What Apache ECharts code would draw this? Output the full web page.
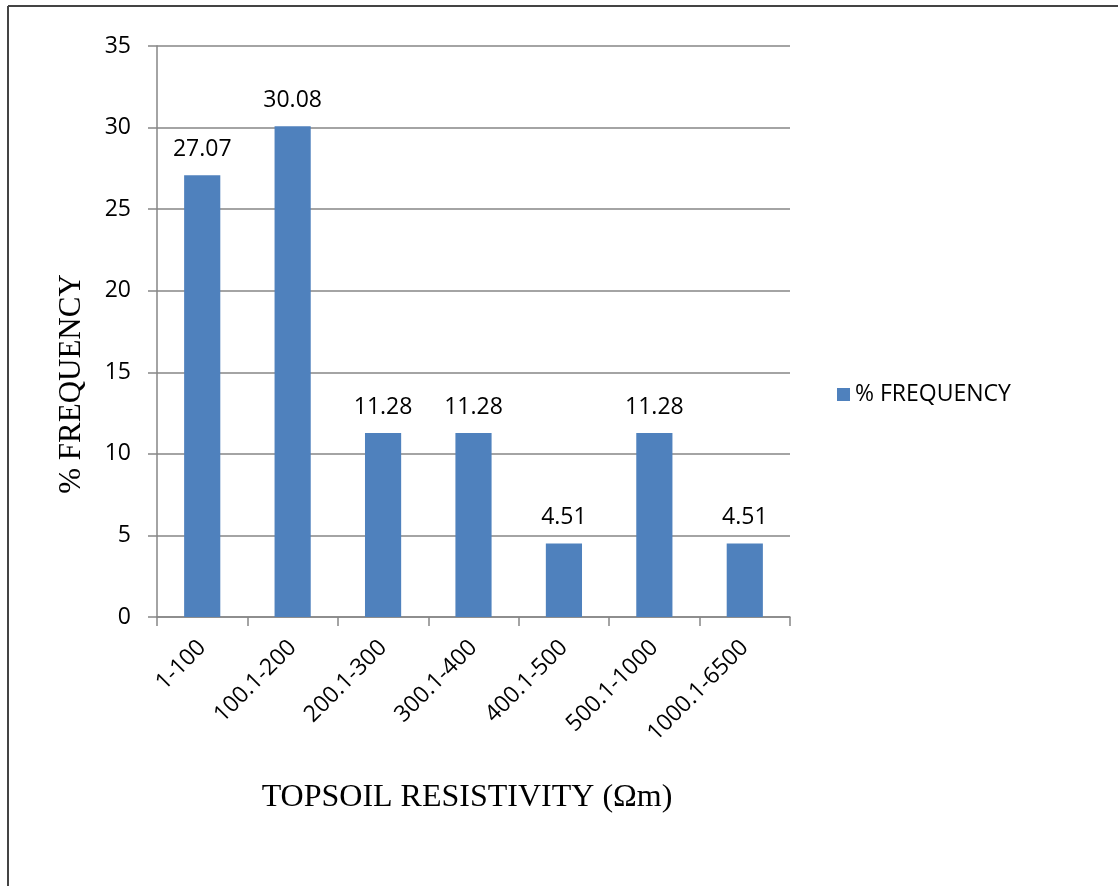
<!DOCTYPE html>
<html>
<head>
<meta charset="utf-8">
<script src="https://cdn.jsdelivr.net/npm/echarts@6/dist/echarts.min.js"></script>
<style>
html,body{margin:0;padding:0;background:#fff;}
#chart{width:1118px;height:886px;}
</style>
</head>
<body>
<div id="chart"></div>
<script>
const categories = ['1-100','100.1-200','200.1-300','300.1-400','400.1-500','500.1-1000','1000.1-6500'];
const frequency = [27.07, 30.08, 11.28, 11.28, 4.51, 11.28, 4.51];
const seriesName = '% FREQUENCY';
const xTitle = 'TOPSOIL RESISTIVITY (Ωm)';
const yTitle = '% FREQUENCY';

const chart = echarts.init(document.getElementById('chart'), null, {renderer:'canvas'});
const sans = '"Open Sans", "Liberation Sans", Arial, sans-serif';
const serif = '"Liberation Serif", "Times New Roman", serif';
const gray = '#868686';
chart.setOption({
  animation: false,
  backgroundColor: '#fff',
  grid: {left: 157, top: 46, width: 633, height: 571, containLabel: false},
  legend: {
    data: [seriesName],
    left: 832, top: 378,
    icon: 'rect', itemWidth: 13, itemHeight: 13, itemGap: 9,
    textStyle: {fontFamily: sans, fontSize: 23, color: '#000'}
  },
  xAxis: {
    type: 'category',
    data: categories,
    axisLine: {lineStyle: {color: gray, width: 1.5}},
    axisTick: {show: true, length: 9, alignWithLabel: false, lineStyle: {color: gray, width: 1.5}},
    axisLabel: {rotate: 45, margin: 27, interval: 0, fontFamily: sans, fontSize: 23, color: '#000'},
    splitLine: {show: false}
  },
  yAxis: {
    type: 'value',
    min: 0, max: 35, interval: 5,
    axisLine: {show: true, lineStyle: {color: gray, width: 1.5}},
    axisTick: {show: true, length: 9, inside: false, lineStyle: {color: gray, width: 1.5}},
    axisLabel: {margin: 26, fontFamily: sans, fontSize: 23, color: '#000'},
    splitLine: {show: true, lineStyle: {color: gray, width: 1.5}}
  },
  series: [{
    name: seriesName,
    type: 'bar',
    data: frequency,
    barWidth: '40%',
    itemStyle: {color: '#4F81BD'},
    label: {show: true, position: 'top', distance: 14, fontFamily: sans, fontSize: 23, color: '#000',
      formatter: p => p.value.toFixed(2)}
  }],
  graphic: [
    {type: 'line', shape: {x1: 8, y1: 6, x2: 1118, y2: 6}, style: {stroke: '#444', lineWidth: 2}},
    {type: 'line', shape: {x1: 8, y1: 6, x2: 8, y2: 886}, style: {stroke: '#444', lineWidth: 2}},
    {type: 'text', x: 467, y: 798, style: {text: xTitle, font: '32px ' + serif, fill: '#000', textAlign: 'center', textVerticalAlign: 'middle'}},
    {type: 'text', x: 72, y: 384, rotation: Math.PI/2, style: {text: yTitle, font: '31px ' + serif, fill: '#000', textAlign: 'center', textVerticalAlign: 'middle'}}
  ]
});
</script>
</body>
</html>
